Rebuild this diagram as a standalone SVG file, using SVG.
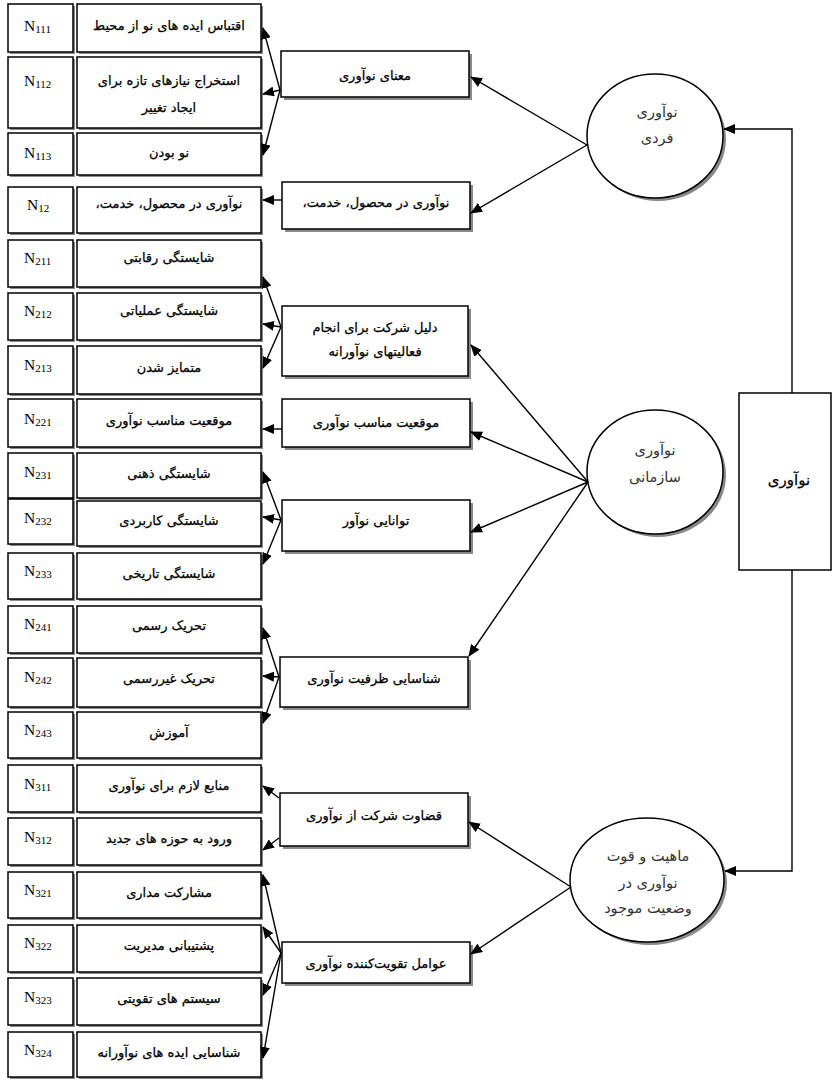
<svg xmlns="http://www.w3.org/2000/svg" width="833" height="1082" viewBox="0 0 833 1082">
<defs>
<marker id="ah" markerUnits="userSpaceOnUse" markerWidth="12" markerHeight="10" refX="11" refY="5" orient="auto">
<path d="M0,0 L12,5 L0,10 Z" fill="#000"/>
</marker>
</defs>
<style>
.bx{fill:#fff;stroke:#000;stroke-width:1.5}
.sh{fill:#8a8a8a}
.nl{font-family:"Liberation Serif",serif;font-size:15.5px;fill:#000}
.sub{font-size:11px}
.fa{font-family:"DejaVu Sans",sans-serif;font-size:13px;fill:#000;stroke:#000;stroke-width:0.25;text-anchor:middle;direction:rtl}
.fe{font-family:"DejaVu Sans",sans-serif;font-size:14.5px;fill:#333;text-anchor:middle;direction:rtl}
.cn line,.cn polyline{stroke:#000;stroke-width:1.4;fill:none}
</style>
<rect width="833" height="1082" fill="#fff"/>

<g id="rows">
<g id="r111"><rect class="sh" x="10" y="6" width="65" height="48"/><rect class="bx" x="8" y="4" width="65" height="48"/><rect class="sh" x="79" y="6" width="184" height="48"/><rect class="bx" x="77" y="4" width="184" height="48"/>
<text class="nl" x="24" y="31">N<tspan class="sub" dy="2">111</tspan></text><text class="fa" x="169" y="30">اقتباس ایده های نو از محیط</text></g>

<g id="r112"><rect class="sh" x="10" y="59" width="65" height="71"/><rect class="bx" x="8" y="57" width="65" height="71"/><rect class="sh" x="79" y="59" width="184" height="71"/><rect class="bx" x="77" y="57" width="184" height="71"/>
<text class="nl" x="24" y="86">N<tspan class="sub" dy="2">112</tspan></text><text class="fa" x="169" y="85">استخراج نیازهای تازه برای</text><text class="fa" x="169" y="112">ایجاد تغییر</text></g>

<g id="r113"><rect class="sh" x="10" y="135" width="65" height="42"/><rect class="bx" x="8" y="133" width="65" height="42"/><rect class="sh" x="79" y="135" width="184" height="42"/><rect class="bx" x="77" y="133" width="184" height="42"/>
<text class="nl" x="24" y="158">N<tspan class="sub" dy="2">113</tspan></text><text class="fa" x="169" y="157">نو بودن</text></g>

<g id="r12"><rect class="sh" x="10" y="189" width="65" height="46"/><rect class="bx" x="8" y="187" width="65" height="46"/><rect class="sh" x="79" y="189" width="184" height="46"/><rect class="bx" x="77" y="187" width="184" height="46"/>
<text class="nl" x="27" y="210">N<tspan class="sub" dy="2">12</tspan></text><text class="fa" x="169" y="208">نوآوری در محصول، خدمت،</text></g>

<g id="r211"><rect class="sh" x="10" y="242" width="65" height="47"/><rect class="bx" x="8" y="240" width="65" height="47"/><rect class="sh" x="79" y="242" width="184" height="47"/><rect class="bx" x="77" y="240" width="184" height="47"/>
<text class="nl" x="24" y="263">N<tspan class="sub" dy="2">211</tspan></text><text class="fa" x="169" y="262">شایستگی رقابتی</text></g>

<g id="r212"><rect class="sh" x="10" y="295" width="65" height="47"/><rect class="bx" x="8" y="293" width="65" height="47"/><rect class="sh" x="79" y="295" width="184" height="47"/><rect class="bx" x="77" y="293" width="184" height="47"/>
<text class="nl" x="24" y="316">N<tspan class="sub" dy="2">212</tspan></text><text class="fa" x="169" y="315">شایستگی عملیاتی</text></g>

<g id="r213"><rect class="sh" x="10" y="348" width="65" height="48"/><rect class="bx" x="8" y="346" width="65" height="48"/><rect class="sh" x="79" y="348" width="184" height="48"/><rect class="bx" x="77" y="346" width="184" height="48"/>
<text class="nl" x="24" y="370">N<tspan class="sub" dy="2">213</tspan></text><text class="fa" x="169" y="372">متمایز شدن</text></g>

<g id="r221"><rect class="sh" x="10" y="401" width="65" height="48"/><rect class="bx" x="8" y="399" width="65" height="48"/><rect class="sh" x="79" y="401" width="184" height="48"/><rect class="bx" x="77" y="399" width="184" height="48"/>
<text class="nl" x="24" y="424">N<tspan class="sub" dy="2">221</tspan></text><text class="fa" x="169" y="425">موقعیت مناسب نوآوری</text></g>

<g id="r231"><rect class="sh" x="10" y="455" width="65" height="45"/><rect class="bx" x="8" y="453" width="65" height="45"/><rect class="sh" x="79" y="455" width="184" height="45"/><rect class="bx" x="77" y="453" width="184" height="45"/>
<text class="nl" x="24" y="477">N<tspan class="sub" dy="2">231</tspan></text><text class="fa" x="169" y="478">شایستگی ذهنی</text></g>

<g id="r232"><rect class="sh" x="10" y="501" width="65" height="45"/><rect class="bx" x="8" y="499" width="65" height="45"/><rect class="sh" x="79" y="503" width="184" height="45"/><rect class="bx" x="77" y="501" width="184" height="45"/>
<text class="nl" x="24" y="523">N<tspan class="sub" dy="2">232</tspan></text><text class="fa" x="169" y="525">شایستگی کاربردی</text></g>

<g id="r233"><rect class="sh" x="10" y="555" width="65" height="46"/><rect class="bx" x="8" y="553" width="65" height="46"/><rect class="sh" x="79" y="555" width="184" height="46"/><rect class="bx" x="77" y="553" width="184" height="46"/>
<text class="nl" x="24" y="576">N<tspan class="sub" dy="2">233</tspan></text><text class="fa" x="169" y="578">شایستگی تاریخی</text></g>

<g id="r241"><rect class="sh" x="10" y="608" width="65" height="47"/><rect class="bx" x="8" y="606" width="65" height="47"/><rect class="sh" x="79" y="608" width="184" height="47"/><rect class="bx" x="77" y="606" width="184" height="47"/>
<text class="nl" x="24" y="629">N<tspan class="sub" dy="2">241</tspan></text><text class="fa" x="169" y="630">تحریک رسمی</text></g>

<g id="r242"><rect class="sh" x="10" y="660" width="65" height="49"/><rect class="bx" x="8" y="658" width="65" height="49"/><rect class="sh" x="79" y="660" width="184" height="49"/><rect class="bx" x="77" y="658" width="184" height="49"/>
<text class="nl" x="24" y="682">N<tspan class="sub" dy="2">242</tspan></text><text class="fa" x="169" y="683">تحریک غیررسمی</text></g>

<g id="r243"><rect class="sh" x="10" y="714" width="65" height="46"/><rect class="bx" x="8" y="712" width="65" height="46"/><rect class="sh" x="79" y="714" width="184" height="46"/><rect class="bx" x="77" y="712" width="184" height="46"/>
<text class="nl" x="24" y="735">N<tspan class="sub" dy="2">243</tspan></text><text class="fa" x="169" y="737">آموزش</text></g>

<g id="r311"><rect class="sh" x="10" y="767" width="65" height="47"/><rect class="bx" x="8" y="765" width="65" height="47"/><rect class="sh" x="79" y="767" width="184" height="47"/><rect class="bx" x="77" y="765" width="184" height="47"/>
<text class="nl" x="24" y="789">N<tspan class="sub" dy="2">311</tspan></text><text class="fa" x="169" y="790">منابع لازم برای نوآوری</text></g>

<g id="r312"><rect class="sh" x="10" y="820" width="65" height="47"/><rect class="bx" x="8" y="818" width="65" height="47"/><rect class="sh" x="79" y="820" width="184" height="47"/><rect class="bx" x="77" y="818" width="184" height="47"/>
<text class="nl" x="24" y="842">N<tspan class="sub" dy="2">312</tspan></text><text class="fa" x="169" y="843">ورود به حوزه های جدید</text></g>

<g id="r321"><rect class="sh" x="10" y="874" width="65" height="46"/><rect class="bx" x="8" y="872" width="65" height="46"/><rect class="sh" x="79" y="874" width="184" height="46"/><rect class="bx" x="77" y="872" width="184" height="46"/>
<text class="nl" x="24" y="895">N<tspan class="sub" dy="2">321</tspan></text><text class="fa" x="169" y="897">مشارکت مداری</text></g>

<g id="r322"><rect class="sh" x="10" y="927" width="65" height="47"/><rect class="bx" x="8" y="925" width="65" height="47"/><rect class="sh" x="79" y="927" width="184" height="47"/><rect class="bx" x="77" y="925" width="184" height="47"/>
<text class="nl" x="24" y="948">N<tspan class="sub" dy="2">322</tspan></text><text class="fa" x="169" y="950">پشتیبانی مدیریت</text></g>

<g id="r323"><rect class="sh" x="10" y="980" width="65" height="47"/><rect class="bx" x="8" y="978" width="65" height="47"/><rect class="sh" x="79" y="980" width="184" height="47"/><rect class="bx" x="77" y="978" width="184" height="47"/>
<text class="nl" x="24" y="1002">N<tspan class="sub" dy="2">323</tspan></text><text class="fa" x="169" y="1003">سیستم های تقویتی</text></g>

<g id="r324"><rect class="sh" x="10" y="1034" width="65" height="45"/><rect class="bx" x="8" y="1032" width="65" height="45"/><rect class="sh" x="79" y="1034" width="184" height="45"/><rect class="bx" x="77" y="1032" width="184" height="45"/>
<text class="nl" x="24" y="1055">N<tspan class="sub" dy="2">324</tspan></text><text class="fa" x="169" y="1057">شناسایی ایده های نوآورانه</text></g>
</g>

<g id="mid">
<g id="m1"><rect class="sh" x="284" y="54" width="188" height="46"/><rect class="bx" x="281" y="51" width="188" height="46"/><text class="fa" x="375" y="80">معنای نوآوری</text></g>
<g id="m2"><rect class="sh" x="285" y="185" width="188" height="47"/><rect class="bx" x="282" y="182" width="188" height="47"/><text class="fa" x="376" y="207">نوآوری در محصول، خدمت،</text></g>
<g id="m3"><rect class="sh" x="285" y="309" width="186" height="70"/><rect class="bx" x="282" y="306" width="186" height="70"/><text class="fa" x="375" y="332">دلیل شرکت برای انجام</text><text class="fa" x="375" y="356">فعالیتهای  نوآورانه</text></g>
<g id="m4"><rect class="sh" x="285" y="402" width="188" height="48"/><rect class="bx" x="282" y="399" width="188" height="48"/><text class="fa" x="376" y="427">موقعیت مناسب نوآوری</text></g>
<g id="m5"><rect class="sh" x="285" y="503" width="188" height="51"/><rect class="bx" x="282" y="500" width="188" height="51"/><text class="fa" x="376" y="525">توانایی نوآور</text></g>
<g id="m6"><rect class="sh" x="283" y="660" width="188" height="50"/><rect class="bx" x="280" y="657" width="188" height="50"/><text class="fa" x="374" y="683">شناسایی ظرفیت نوآوری</text></g>
<g id="m7"><rect class="sh" x="283" y="796" width="188" height="53"/><rect class="bx" x="280" y="793" width="188" height="53"/><text class="fa" x="374" y="820">قضاوت شرکت از نوآوری</text></g>
<g id="m8"><rect class="sh" x="285" y="945" width="188" height="41"/><rect class="bx" x="282" y="942" width="188" height="41"/><text class="fa" x="376" y="968">عوامل تقویت‌کننده نوآوری</text></g>
</g>

<g id="ellipses">
<g id="e1"><ellipse cx="658" cy="139" rx="68" ry="62" fill="#888"/><ellipse class="bx" cx="655" cy="136" rx="68" ry="62"/><text class="fe" x="657" y="117">نوآوری</text><text class="fe" x="657" y="143">فردی</text></g>
<g id="e2"><ellipse cx="658" cy="475" rx="68" ry="62" fill="#888"/><ellipse class="bx" cx="655" cy="472" rx="68" ry="62"/><text class="fe" x="655" y="455">نوآوری</text><text class="fe" x="655" y="482">سازمانی</text></g>
<g id="e3"><ellipse cx="650" cy="883" rx="77" ry="62" fill="#888"/><ellipse class="bx" cx="647" cy="880" rx="77" ry="62"/><text class="fe" x="648" y="861">ماهیت و قوت</text><text class="fe" x="648" y="888">نوآوری در</text><text class="fe" x="648" y="913">وضعیت موجود</text></g>
</g>

<g id="root"><rect class="bx" x="739" y="393" width="92" height="177"/><text class="fa" x="789" y="485" style="font-size:15px">نوآوری</text></g>

<g id="connectors" class="cn">
<polyline points="792,393 792,129 724,129" marker-end="url(#ah)"/>
<polyline points="792,570 792,871 725,871" marker-end="url(#ah)"/>

<line x1="587" y1="145" x2="471" y2="77" marker-end="url(#ah)"/>
<line x1="587" y1="145" x2="471" y2="213" marker-end="url(#ah)"/>

<line x1="588" y1="482" x2="471" y2="345" marker-end="url(#ah)"/>
<line x1="588" y1="482" x2="471" y2="432" marker-end="url(#ah)"/>
<line x1="588" y1="482" x2="471" y2="532" marker-end="url(#ah)"/>
<line x1="588" y1="482" x2="469" y2="656" marker-end="url(#ah)"/>

<line x1="571" y1="887" x2="469" y2="822" marker-end="url(#ah)"/>
<line x1="571" y1="887" x2="471" y2="954" marker-end="url(#ah)"/>

<line x1="280" y1="90" x2="263" y2="28" marker-end="url(#ah)"/>
<line x1="280" y1="90" x2="263" y2="94" marker-end="url(#ah)"/>
<line x1="280" y1="90" x2="263" y2="155" marker-end="url(#ah)"/>
<line x1="282" y1="200" x2="263" y2="200" marker-end="url(#ah)"/>

<line x1="281" y1="327" x2="263" y2="277" marker-end="url(#ah)"/>
<line x1="281" y1="327" x2="263" y2="324" marker-end="url(#ah)"/>
<line x1="281" y1="327" x2="263" y2="368" marker-end="url(#ah)"/>
<line x1="282" y1="429" x2="263" y2="429" marker-end="url(#ah)"/>

<line x1="281" y1="520" x2="263" y2="472" marker-end="url(#ah)"/>
<line x1="281" y1="520" x2="263" y2="517" marker-end="url(#ah)"/>
<line x1="281" y1="520" x2="263" y2="564" marker-end="url(#ah)"/>

<line x1="279" y1="677" x2="263" y2="628" marker-end="url(#ah)"/>
<line x1="279" y1="677" x2="263" y2="676" marker-end="url(#ah)"/>
<line x1="279" y1="677" x2="263" y2="723" marker-end="url(#ah)"/>

<line x1="279" y1="798" x2="263" y2="786" marker-end="url(#ah)"/>
<line x1="279" y1="838" x2="263" y2="850" marker-end="url(#ah)"/>

<line x1="281" y1="953" x2="263" y2="875" marker-end="url(#ah)"/>
<line x1="281" y1="953" x2="263" y2="927" marker-end="url(#ah)"/>
<line x1="281" y1="953" x2="263" y2="995" marker-end="url(#ah)"/>
<line x1="281" y1="953" x2="263" y2="1058" marker-end="url(#ah)"/>
</g>
</svg>
